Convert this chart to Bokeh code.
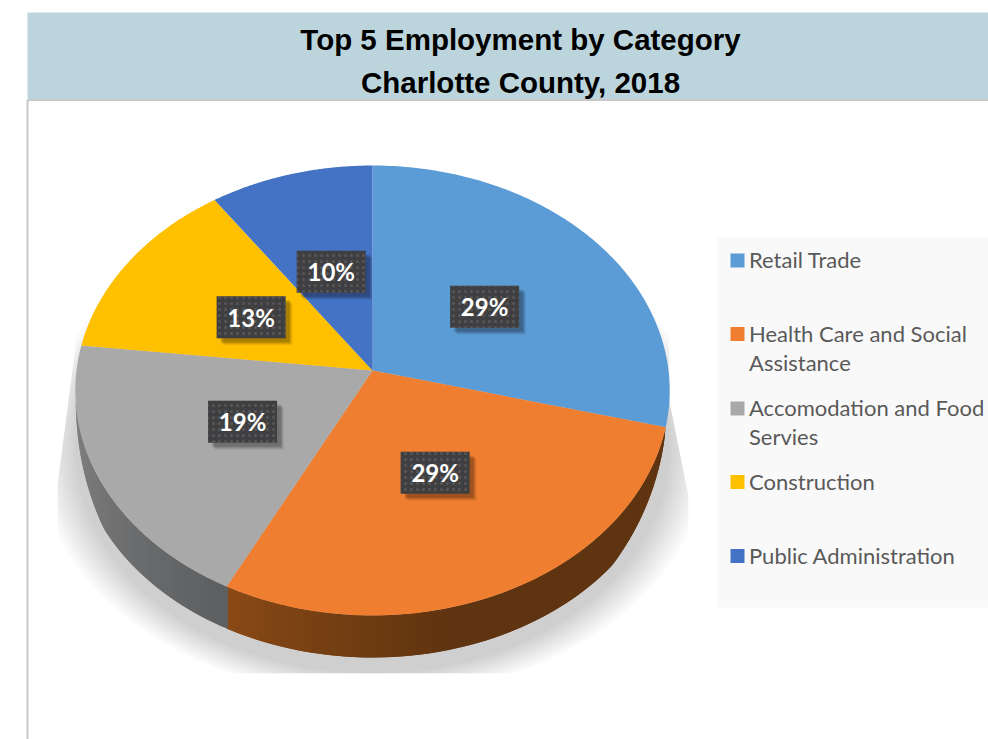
import numpy as np
from bokeh.plotting import figure
from bokeh.embed import file_html
from bokeh.resources import INLINE
from bokeh.core.properties import value

TITLE_LINES = ["Top 5 Employment by Category", "Charlotte County, 2018"]
CATEGORIES = ["Retail Trade", "Health Care and Social Assistance",
              "Accomodation and Food Servies", "Construction", "Public Administration"]
SHARES = [29.0, 28.5, 19.3, 13.5, 9.7]
PERCENT_LABELS = ["29%", "29%", "19%", "13%", "10%"]
COLORS = ["#5b9bd6", "#f07e30", "#a9a9a9", "#ffc000", "#4472c4"]
LEGEND_ROWS = [["Retail Trade"], ["Health Care and Social", "Assistance"],
               ["Accomodation and Food", "Servies"], ["Construction"], ["Public Administration"]]

W, H = 988, 739
CX, CY, RX, RY, K, DEPTH = 372.0, 370.0, 296.0, 223.2, 0.0889, 42.0

def proj(deg, r=1.0):
    a = np.radians(np.asarray(deg, dtype=float))
    X, Y = r * np.sin(a), r * np.cos(a)
    d = 1 + K * Y
    return CX + RX * X / d, CY - RY * Y / d

p = figure(width=W, height=H, x_range=(0, W), y_range=(H, 0), toolbar_location=None,
           output_backend="svg", min_border=0, outline_line_color=None,
           x_axis_type=None, y_axis_type=None, background_fill_color="white",
           styles={"position": "absolute", "left": "0", "top": "0"})
p.grid.visible = False

# header band and frame line
p.quad(left=27, right=W, top=12, bottom=99, fill_color="#bcd5dc", line_color=None)
p.segment(x0=[27, 27], y0=[99.5, 99.5], x1=[W, 27], y1=[99.5, H], line_color="#c8c8c8", line_width=2)
for line, y in zip(TITLE_LINES, [39, 82]):
    p.text(x=[520], y=[y], text=[line], text_font=value("Liberation Sans"), text_font_style="bold",
           text_font_size="29.5px", text_color="#000000", text_align="center", text_baseline="middle")

# soft shadow below the disc
angs = np.linspace(55, 305, 260)
rx0, ry0 = proj(angs)
N = 16
for e in np.linspace(0.13, 0.0, N):
    sx = CX + (rx0 - CX) * (1 + e)
    sy = CY + DEPTH + 16 + (ry0 - CY) * (1 + e * 0.75)
    sy = np.minimum(sy, 673)
    lo = 75 - np.maximum(sy - 345, 0) * 0.13
    hi = 669 + np.maximum(sy - 400, 0) * 0.2
    sx = np.clip(sx, np.maximum(lo, 57), np.minimum(hi, 688))
    p.patch(sx, sy, fill_color="#000000", fill_alpha=0.0125, line_color=None)

# side wall
edges = np.cumsum([0] + SHARES) * 3.6
wall_start, wall_split, wall_end = edges[1], edges[2], 262.0

def lerp(c0, c1, t):
    c0 = np.array([int(c0[i:i + 2], 16) for i in (1, 3, 5)])
    c1 = np.array([int(c1[i:i + 2], 16) for i in (1, 3, 5)])
    c = (c0 + (c1 - c0) * t).astype(int)
    return "#%02x%02x%02x" % tuple(c)

def depth(a):
    return DEPTH * min(1.0, (a - wall_start) / 26) ** 0.6 * min(1.0, max(wall_end - a, 0) / 22) ** 0.6

def strip(a0, a1, col):
    xs0, ys0 = proj([a0, a1])
    h0, h1 = depth(a0), depth(a1)
    p.patch([xs0[0], xs0[1], xs0[1], xs0[0]], [ys0[0], ys0[1], ys0[1] + h1, ys0[0] + h0],
            fill_color=col, line_color=None)

# strips overlap so that their antialiased edges do not show as stripes
for a0 in np.arange(wall_start, wall_split, 1.0):
    t = np.clip((a0 - 165) / (wall_split - 165), 0, 1)
    strip(a0, min(a0 + 2.0, wall_split), lerp("#5f3410", "#8a4a16", t))
for a0 in np.arange(wall_split - 0.3, wall_end, 1.0):
    t = np.clip((a0 - wall_split) / 45, 0, 1)
    strip(a0, min(a0 + 2.0, wall_end), lerp("#5d5f61", "#7c7c7c", t))

# top faces
for i, col in enumerate(COLORS):
    a = np.linspace(edges[i], edges[i + 1], 120)
    x, y = proj(a)
    p.patch(np.r_[CX, x], np.r_[CY, y], fill_color=col, line_color=None)

# percent labels
mids = (edges[:-1] + edges[1:]) / 2
lx, ly = proj(mids, 0.49)
lx = lx + 0.5
ly = ly - np.sign(ly - CY) * 1.5
for off, alpha in [(7, 0.06), (6, 0.08), (5, 0.1), (4, 0.14)]:
    p.rect(lx + off, ly + off, width=69, height=42, fill_color="#000000", fill_alpha=alpha, line_color=None)
p.rect(lx, ly, width=69, height=42, fill_color="#3f3f41", line_color=None,
       hatch_pattern="dot", hatch_color="#5c5c5e", hatch_scale=6, hatch_alpha=0.8, hatch_weight=1)
p.text(lx, ly, text=PERCENT_LABELS, text_font=value("Lato"), text_font_style="bold",
       text_font_size="24px", text_color="#ffffff", text_align="center", text_baseline="middle")

# legend
p.quad(left=717, right=W, top=237, bottom=607, fill_color="#f9f9f9", line_color=None)
ROW_Y = [[259], [332.5, 361.5], [407, 436], [480.5], [554.5]]
for rows, ys, col in zip(LEGEND_ROWS, ROW_Y, COLORS):
    p.rect([737], [ys[0] + 1], width=14, height=14, fill_color=col, line_color=None)
    p.text([748.5] * len(rows), ys, text=rows, text_font=value("Lato"), text_font_size="22px",
           text_color="#595959", text_align="left", text_baseline="middle")

open("out.html", "w").write(file_html(p, INLINE))
